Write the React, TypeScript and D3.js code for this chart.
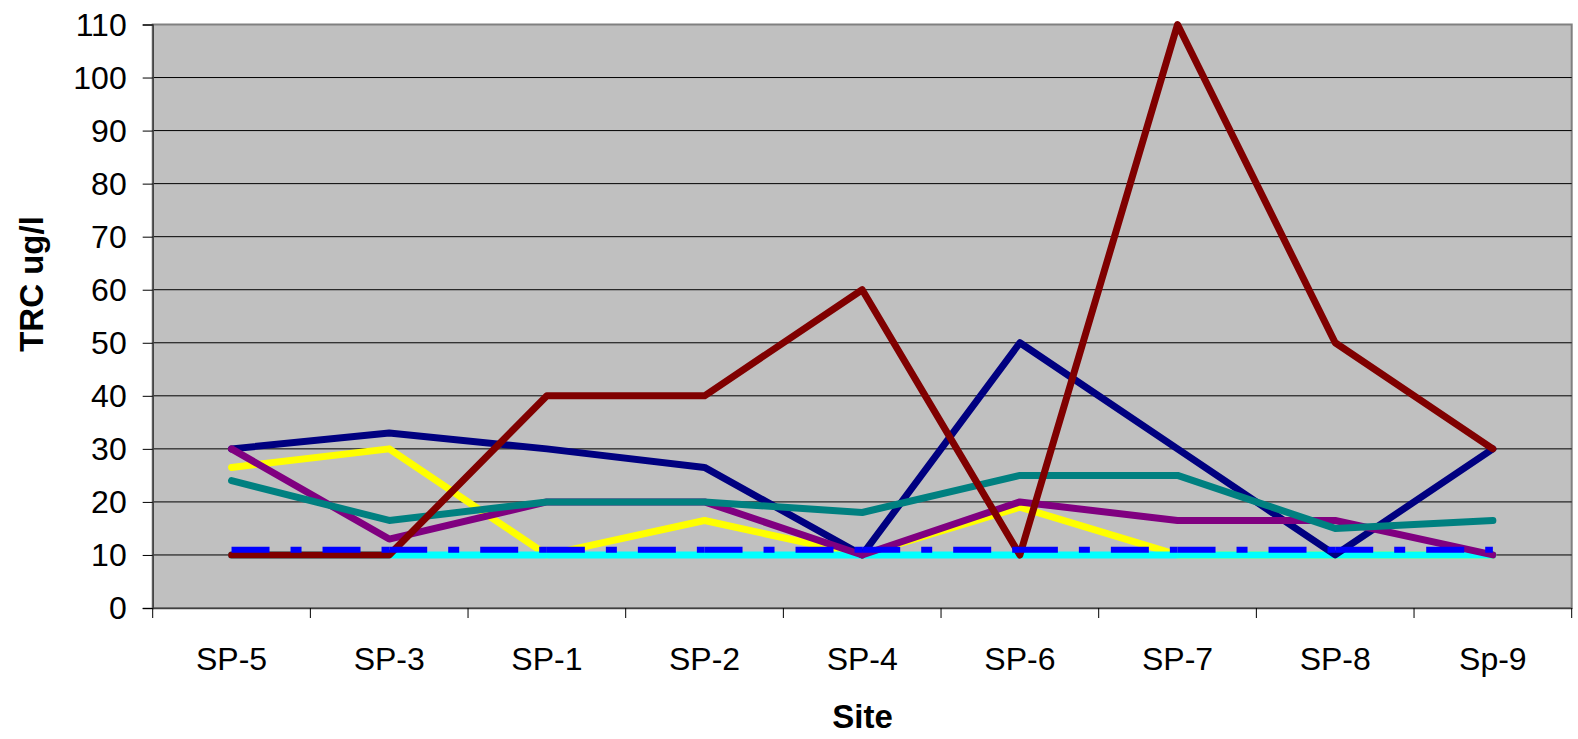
import React, { useRef, useEffect } from 'react';
import * as d3 from 'd3';

const sites = ['SP-5', 'SP-3', 'SP-1', 'SP-2', 'SP-4', 'SP-6', 'SP-7', 'SP-8', 'Sp-9'];
const yTicks = [0, 10, 20, 30, 40, 50, 60, 70, 80, 90, 100, 110];

const yellowVals = [26.5, 30, 10, 16.5, 10, 19, 10, 10, 10];
const cyanVals = [10, 10, 10, 10, 10, 10, 10, 10, 10];
const navyVals = [30, 33, 30, 26.5, 10, 50, 30, 10, 30];
const purpleVals = [30, 13, 20, 20, 10, 20, 16.5, 16.5, 10];
const tealVals = [24, 16.5, 20, 20, 18, 25, 25, 15, 16.5];
const darkRedVals = [10, 10, 40, 40, 60, 10, 110, 50, 30];
const blueDashVals = [11, 11, 11, 11, 11, 11, 11, 11, 11];

// draw order matters: later series sit on top
const series = [
  { name: 'yellow', values: yellowVals, color: '#FFFF00', dashed: false },
  { name: 'cyan', values: cyanVals, color: '#00FFFF', dashed: false },
  { name: 'navy', values: navyVals, color: '#000080', dashed: false },
  { name: 'purple', values: purpleVals, color: '#800080', dashed: false },
  { name: 'teal', values: tealVals, color: '#008080', dashed: false },
  { name: 'darkred', values: darkRedVals, color: '#800000', dashed: false },
  { name: 'blue', values: blueDashVals, color: '#0000FF', dashed: true },
];

const TrcChart = ({ width, height }) => {
  const ref = useRef(null);

  useEffect(() => {
    const margin = { top: 24.5, right: 6.3, bottom: 131, left: 152.7 };
    const chartWidth = width - margin.left - margin.right;
    const chartHeight = height - margin.top - margin.bottom;
    const font = 'Liberation Sans, Arial, sans-serif';

    const svg = d3.select(ref.current)
      .attr('width', width)
      .attr('height', height);
    svg.selectAll('*').remove();

    const x = d3.scaleBand()
      .domain(sites)
      .range([0, chartWidth]);

    const y = d3.scaleLinear()
      .domain([0, 110])
      .range([chartHeight, 0]);

    const cx = d => x(d) + x.bandwidth() / 2;

    const g = svg.append('g')
      .attr('transform', `translate(${margin.left},${margin.top})`);

    g.append('rect')
      .attr('width', chartWidth)
      .attr('height', chartHeight)
      .attr('fill', '#C0C0C0')
      .attr('stroke', '#808080')
      .attr('stroke-width', 2);

    // gridlines
    g.selectAll('line.grid')
      .data(yTicks.filter(t => t > 0 && t < 110))
      .join('line')
        .attr('class', 'grid')
        .attr('x1', 0)
        .attr('x2', chartWidth)
        .attr('y1', d => y(d))
        .attr('y2', d => y(d))
        .attr('stroke', '#000')
        .attr('stroke-width', 1);

    // y axis
    const yAxis = g.append('g')
      .call(d3.axisLeft(y).tickValues(yTicks).tickSize(10).tickPadding(16).tickFormat(d3.format('d')));
    yAxis.select('.domain').attr('stroke', '#404040').attr('stroke-width', 1.5);
    yAxis.selectAll('.tick line').attr('stroke', '#000');
    yAxis.selectAll('text')
      .attr('font-family', font)
      .attr('font-size', 32)
      .attr('fill', '#000')
      .attr('dy', '0.34em');

    // x axis
    const xAxis = g.append('g')
      .attr('transform', `translate(0,${chartHeight})`)
      .call(d3.axisBottom(x).tickSize(0).tickPadding(0));
    xAxis.select('.domain').attr('stroke', '#404040').attr('stroke-width', 1.5);
    xAxis.selectAll('text')
      .attr('font-family', font)
      .attr('font-size', 32)
      .attr('fill', '#000')
      .attr('dy', null)
      .attr('y', 670 - margin.top - chartHeight);

    // category separator ticks
    g.selectAll('line.xtick')
      .data(d3.range(sites.length + 1))
      .join('line')
        .attr('class', 'xtick')
        .attr('x1', i => i * x.bandwidth())
        .attr('x2', i => i * x.bandwidth())
        .attr('y1', chartHeight)
        .attr('y2', chartHeight + 10)
        .attr('stroke', '#000')
        .attr('stroke-width', 1);

    const line = d3.line()
      .x((d, i) => cx(sites[i]))
      .y(d => y(d));

    series.forEach(s => {
      if (s.dashed) {
        // excel restarts the dash pattern on every segment
        d3.pairs(s.values.map((v, i) => [i, v])).forEach(([a, b]) => {
          g.append('line')
            .attr('x1', cx(sites[a[0]]))
            .attr('y1', y(a[1]))
            .attr('x2', cx(sites[b[0]]))
            .attr('y2', y(b[1]))
            .attr('stroke', s.color)
            .attr('stroke-width', 6)
            .attr('stroke-dasharray', '38,21,11,21');
        });
      } else {
        g.append('path')
          .datum(s.values)
          .attr('d', line)
          .attr('fill', 'none')
          .attr('stroke', s.color)
          .attr('stroke-width', 7)
          .attr('stroke-linejoin', 'round')
          .attr('stroke-linecap', 'round');
      }
    });

    // axis titles
    svg.append('text')
      .attr('transform', `translate(43,284) rotate(-90)`)
      .attr('text-anchor', 'middle')
      .attr('font-family', font)
      .attr('font-weight', 'bold')
      .attr('font-size', 33)
      .text('TRC ug/l');

    svg.append('text')
      .attr('x', 862.5)
      .attr('y', 728)
      .attr('text-anchor', 'middle')
      .attr('font-family', font)
      .attr('font-weight', 'bold')
      .attr('font-size', 33)
      .text('Site');
  }, [width, height]);

  return <svg ref={ref} style={{ display: 'block' }}></svg>;
};

export default function App() {
  return (
    <div style={{ position: 'absolute', left: 0, top: 0, background: '#fff' }}>
      <TrcChart width={1578} height={739} />
    </div>
  );
}
